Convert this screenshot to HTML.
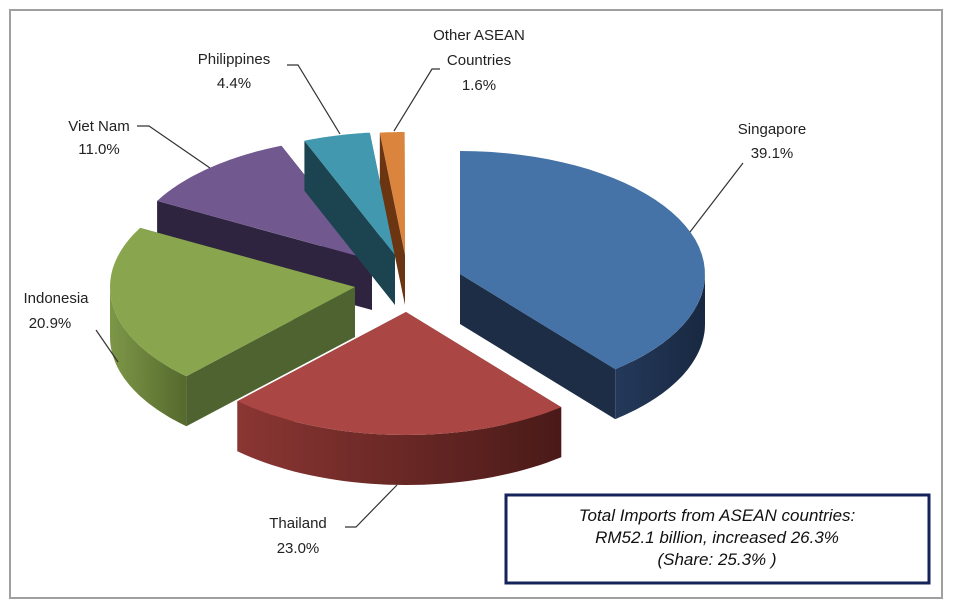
<!DOCTYPE html>
<html><head><meta charset="utf-8"><style>
html,body{margin:0;padding:0;background:#fff;}
svg{display:block;}
text{font-family:"Liberation Sans",sans-serif;font-size:15px;fill:#222;}
.b{font-style:italic;font-size:17px;fill:#111;}
</style></head><body>
<svg id="s" width="960" height="603" viewBox="0 0 960 603">
<defs>
<linearGradient id="gr" x1="0" x2="1"><stop offset="0" stop-color="#8a3633"/><stop offset="1" stop-color="#4a1a18"/></linearGradient>
<linearGradient id="gg" x1="0" x2="1"><stop offset="0" stop-color="#7d9748"/><stop offset="1" stop-color="#55692d"/></linearGradient>
<linearGradient id="gb" x1="0" x2="1"><stop offset="0" stop-color="#24395a"/><stop offset="1" stop-color="#182841"/></linearGradient>
</defs>
<rect x="10" y="10" width="932" height="588" fill="#fff" stroke="#a0a0a0" stroke-width="2"/>
<g id="pie"></g>
<g stroke="#333" stroke-width="1.2" fill="none">
<polyline points="743,163 690,232"/>
<polyline points="345,527 356,527 397,485"/>
<polyline points="96,330 118,362"/>
<polyline points="137,126 149,126 210,168"/>
<polyline points="287,65 298,65 340,134"/>
<polyline points="440,69 432,69 394,131"/>
</g>
<text x="772" y="134" text-anchor="middle">Singapore</text>
<text x="772" y="158" text-anchor="middle">39.1%</text>
<text x="298" y="528" text-anchor="middle">Thailand</text>
<text x="298" y="553" text-anchor="middle">23.0%</text>
<text x="56" y="303" text-anchor="middle">Indonesia</text>
<text x="50" y="328" text-anchor="middle">20.9%</text>
<text x="99" y="131" text-anchor="middle">Viet Nam</text>
<text x="99" y="154" text-anchor="middle">11.0%</text>
<text x="234" y="64" text-anchor="middle">Philippines</text>
<text x="234" y="88" text-anchor="middle">4.4%</text>
<text x="479" y="40" text-anchor="middle">Other ASEAN</text>
<text x="479" y="65" text-anchor="middle">Countries</text>
<text x="479" y="90" text-anchor="middle">1.6%</text>
<rect x="506" y="495" width="423" height="88" fill="#fff" stroke="#14235a" stroke-width="3"/>
<text class="b" x="717" y="521" text-anchor="middle">Total Imports from ASEAN countries:</text>
<text class="b" x="717" y="543" text-anchor="middle">RM52.1 billion, increased 26.3%</text>
<text class="b" x="717" y="565" text-anchor="middle">(Share: 25.3% )</text>
</svg>
<script>
var RX=245,RY=123,D=50;
var sl=[
 // name,cx,cy,a0,a1,top,arcfill,radial
 [372,260,208.7,248.3,"#71588f","#3a2d4d","#2f2440"],
 [395,255,248.3,264.1,"#4198af","#1f4f5c","#1c4450"],
 [405,255,264.1,269.9,"#db843d","#8a4818","#6a3510"],
 [460,274,-90,50.7,"#4572a7","url(#gb)","#1c2d45"],
 [355,287,133.5,208.7,"#89a54e","url(#gg)","#4e6330"],
 [406,312,50.7,133.5,"#aa4643","url(#gr)","#5a201e"]
];
function P(cx,cy,t,dy){t=t*Math.PI/180;return [cx+RX*Math.cos(t),cy+RY*Math.sin(t)+(dy||0)];}
function arc(cx,cy,a0,a1,dy){var s="";for(var i=0;i<=40;i++){var t=a0+(a1-a0)*i/40;var p=P(cx,cy,t,dy);s+=(i?"L":"")+p[0].toFixed(1)+","+p[1].toFixed(1);}return s;}
var h="";
sl.forEach(function(s){
 var cx=s[0],cy=s[1],a0=s[2],a1=s[3];
 var e0=P(cx,cy,a0),e1=P(cx,cy,a1);
 h+='<path d="M'+cx+','+cy+'L'+e0+'L'+e0[0]+','+(e0[1]+D)+'L'+cx+','+(cy+D)+'Z" fill="'+s[6]+'"/>';
 h+='<path d="M'+cx+','+cy+'L'+e1+'L'+e1[0]+','+(e1[1]+D)+'L'+cx+','+(cy+D)+'Z" fill="'+s[6]+'"/>';
 // arc face for visible part (0..180)
 var b0=Math.max(a0,0),b1=Math.min(a1,180);
 if(a0<0&&a1<0){b0=1;b1=0;}
 if(b1>b0){h+='<path d="M'+arc(cx,cy,b0,b1,0)+'L'+arc(cx,cy,b1,b0,D).slice(0)+'Z" fill="'+s[5]+'"/>';}
 if(a1>180){var c0=Math.max(a0,180);} 
 h+='<path d="M'+cx+','+cy+'L'+arc(cx,cy,a0,a1,0)+'Z" fill="'+s[4]+'"/>';
});
document.getElementById("pie").innerHTML=h;
</script>
</body></html>
